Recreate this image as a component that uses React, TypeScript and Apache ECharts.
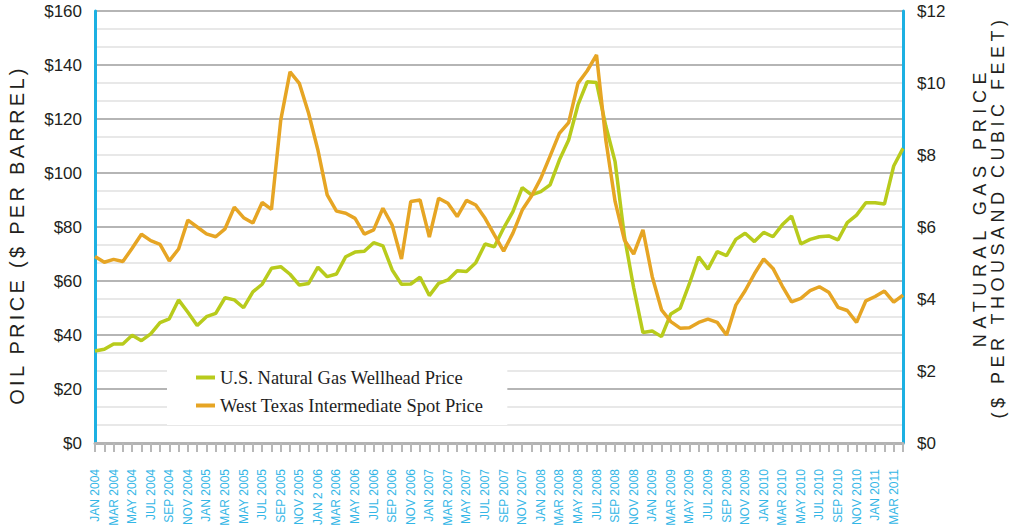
import React, { useEffect, useRef } from "react";
import * as echarts from "echarts";

const monthNames = ["JAN", "FEB", "MAR", "APR", "MAY", "JUN", "JUL", "AUG", "SEP", "OCT", "NOV", "DEC"];
const years = [2004, 2005, 2006, 2007, 2008, 2009, 2010, 2011];
const categories: string[] = [];
years.forEach((y) => monthNames.forEach((m) => categories.push(`${m} ${y}`)));
categories.splice(88); // Jan 2004 .. Apr 2011

const tickLabels = [
  "JAN 2004", "MAR 2004", "MAY 2004", "JUL 2004", "SEP 2004", "NOV 2004",
  "JAN 2005", "MAR 2005", "MAY 2005", "JUL 2005", "SEP 2005", "NOV 2005",
  "JAN 2 006", "MAR 2006", "MAY 2006", "JUL 2006", "SEP 2006", "NOV 2006",
  "JAN 2007", "MAR 2007", "MAY 2007", "JUL 2007", "SEP 2007", "NOV 2007",
  "JAN 2008", "MAR 2008", "MAY 2008", "JUL 2008", "SEP 2008", "NOV 2008",
  "JAN 2009", "MAR 2009", "MAY 2009", "JUL 2009", "SEP 2009", "NOV 2009",
  "JAN 2010", "MAR 2010", "MAY 2010", "JUL 2010", "SEP 2010", "NOV 2010",
  "JAN 2011", "MAR 2011",
];

// Green line, read on the left axis ($ per barrel)
const greenValues = [
  34.1, 34.7, 36.7, 36.7, 39.9, 37.9, 40.4, 44.6, 46.0, 53.0, 48.4, 43.5,
  46.8, 48.0, 53.8, 53.0, 50.1, 56.0, 58.8, 64.7, 65.3, 62.5, 58.5, 59.1,
  65.1, 61.6, 62.6, 69.0, 70.7, 71.0, 74.2, 73.0, 64.1, 58.8, 58.9, 61.4,
  54.6, 59.1, 60.4, 63.8, 63.5, 66.8, 73.7, 72.7, 79.6, 85.7, 94.6, 91.9,
  93.1, 95.6, 104.8, 112.2, 125.2, 133.8, 133.5, 117.4, 104.2, 76.6, 57.5, 40.9,
  41.5, 39.4, 47.8, 49.9, 59.0, 69.0, 64.4, 70.9, 69.4, 75.4, 77.7, 74.6,
  78.0, 76.4, 80.8, 84.1, 73.7, 75.4, 76.4, 76.7, 75.2, 81.6, 84.4, 89.0,
  89.0, 88.5, 102.6, 109.1,
];

// Orange line, read on the right axis ($ per thousand cubic feet)
const orangeValues = [
  5.18, 5.02, 5.10, 5.04, 5.41, 5.80, 5.62, 5.52, 5.06, 5.39, 6.19, 6.00,
  5.81, 5.73, 5.95, 6.55, 6.26, 6.11, 6.68, 6.49, 8.97, 10.31, 9.99, 9.16,
  8.14, 6.89, 6.44, 6.38, 6.24, 5.80, 5.92, 6.52, 6.05, 5.11, 6.71, 6.75,
  5.72, 6.80, 6.66, 6.29, 6.74, 6.61, 6.24, 5.78, 5.33, 5.83, 6.47, 6.86,
  7.35, 7.97, 8.60, 8.90, 9.99, 10.34, 10.78, 8.42, 6.71, 5.64, 5.25, 5.92,
  4.62, 3.70, 3.37, 3.19, 3.20, 3.35, 3.44, 3.35, 3.00, 3.83, 4.23, 4.70,
  5.11, 4.85, 4.36, 3.92, 4.02, 4.23, 4.34, 4.19, 3.77, 3.68, 3.35, 3.95,
  4.07, 4.22, 3.91, 4.11,
];

const seriesNames = ["U.S. Natural Gas Wellhead Price", "West Texas Intermediate Spot Price"];
const leftTitle = "OIL PRICE ($ PER BARREL)";
const rightTitle1 = "NATURAL GAS PRICE";
const rightTitle2 = "($ PER THOUSAND CUBIC FEET)";

const GREEN = "#b8cb1c";
const ORANGE = "#e6a524";
const CYAN = "#1cb0e2";
const SANS = "'Liberation Sans', Arial, Helvetica, sans-serif";
const SERIF = "'Liberation Serif', 'Times New Roman', serif";

const spacing: Record<string, string> = {
  [leftTitle]: "3.3px",
  [rightTitle1]: "5.6px",
  [rightTitle2]: "4.5px",
};

export default function App() {
  const ref = useRef<HTMLDivElement>(null);
  useEffect(() => {
    if (!ref.current) return;
    const el = ref.current;
    const chart = echarts.init(el, undefined, { renderer: "svg" });
    const titleStyle = (text: string, size: number) => ({
      text,
      fontSize: size,
      fontFamily: SANS,
      fill: "#231f20",
      align: "center",
      verticalAlign: "middle",
      textAlign: "center",
      textVerticalAlign: "middle",
    });
    chart.setOption({
      animation: false,
      backgroundColor: "#ffffff",
      grid: { left: 95, right: 107, top: 11, bottom: 88, containLabel: false },
      legend: {
        data: seriesNames,
        orient: "vertical",
        left: 167,
        top: 356,
        padding: [12, 24, 10, 29],
        itemGap: 9,
        itemWidth: 19,
        itemHeight: 4,
        icon: "rect",
        backgroundColor: "#ffffff",
        textStyle: { fontFamily: SERIF, fontSize: 18.5, color: "#1e1e1e" },
      },
      xAxis: {
        type: "category",
        data: categories,
        boundaryGap: false,
        axisLine: { show: true, lineStyle: { color: "#b3b3b3", width: 3 } },
        axisTick: { show: true, interval: 0, length: 9, lineStyle: { color: "#b8b8b8", width: 2 } },
        axisLabel: {
          interval: 1,
          rotate: 90,
          margin: 26,
          fontFamily: SANS,
          fontSize: 12,
          color: "#33b6e6",
          formatter: (_v: string, idx: number) => tickLabels[idx / 2] ?? "",
        },
        splitLine: { show: false },
      },
      yAxis: [
        {
          type: "value",
          min: 0,
          max: 160,
          interval: 20,
          position: "left",
          axisLine: { show: true, lineStyle: { color: CYAN, width: 3 } },
          axisTick: { show: false },
          axisLabel: {
            margin: 13,
            fontFamily: SANS,
            fontSize: 17,
            color: "#231f20",
            formatter: (v: number) => "$" + v,
          },
          splitLine: { show: true, lineStyle: { color: "#b5b5b5", width: 2 } },
          minorTick: { show: false, splitNumber: 3 },
          minorSplitLine: { show: true, lineStyle: { color: "#e0e0e0", width: 1.5 } },
        },
        {
          type: "value",
          min: 0,
          max: 12,
          interval: 2,
          position: "right",
          axisLine: { show: true, lineStyle: { color: CYAN, width: 3 } },
          axisTick: { show: false },
          axisLabel: {
            margin: 14,
            fontFamily: SANS,
            fontSize: 17,
            color: "#231f20",
            formatter: (v: number) => "$" + v,
          },
          splitLine: { show: false },
        },
      ],
      series: [
        {
          name: seriesNames[0],
          type: "line",
          yAxisIndex: 0,
          data: greenValues,
          showSymbol: false,
          symbol: "none",
          lineStyle: { color: GREEN, width: 3.5 },
          itemStyle: { color: GREEN },
        },
        {
          name: seriesNames[1],
          type: "line",
          yAxisIndex: 1,
          data: orangeValues,
          showSymbol: false,
          symbol: "none",
          lineStyle: { color: ORANGE, width: 3.5 },
          itemStyle: { color: ORANGE },
        },
      ],
      graphic: [
        { type: "text", x: 17, y: 235, rotation: Math.PI / 2, style: titleStyle(leftTitle, 20) },
        { type: "text", x: 980, y: 207, rotation: Math.PI / 2, style: titleStyle(rightTitle1, 18) },
        { type: "text", x: 998, y: 217, rotation: Math.PI / 2, style: titleStyle(rightTitle2, 18) },
      ],
    });
    const applySpacing = () => {
      el.querySelectorAll("text").forEach((t) => {
        const s = spacing[(t.textContent || "").trim()];
        if (s) t.setAttribute("letter-spacing", s);
      });
    };
    applySpacing();
    chart.on("finished", applySpacing);
    const timer = setTimeout(applySpacing, 50);
    return () => {
      clearTimeout(timer);
      chart.dispose();
    };
  }, []);
  return (
    <div
      ref={ref}
      style={{ position: "fixed", left: 0, top: 0, width: 1010, height: 531, background: "#fff" }}
    />
  );
}
